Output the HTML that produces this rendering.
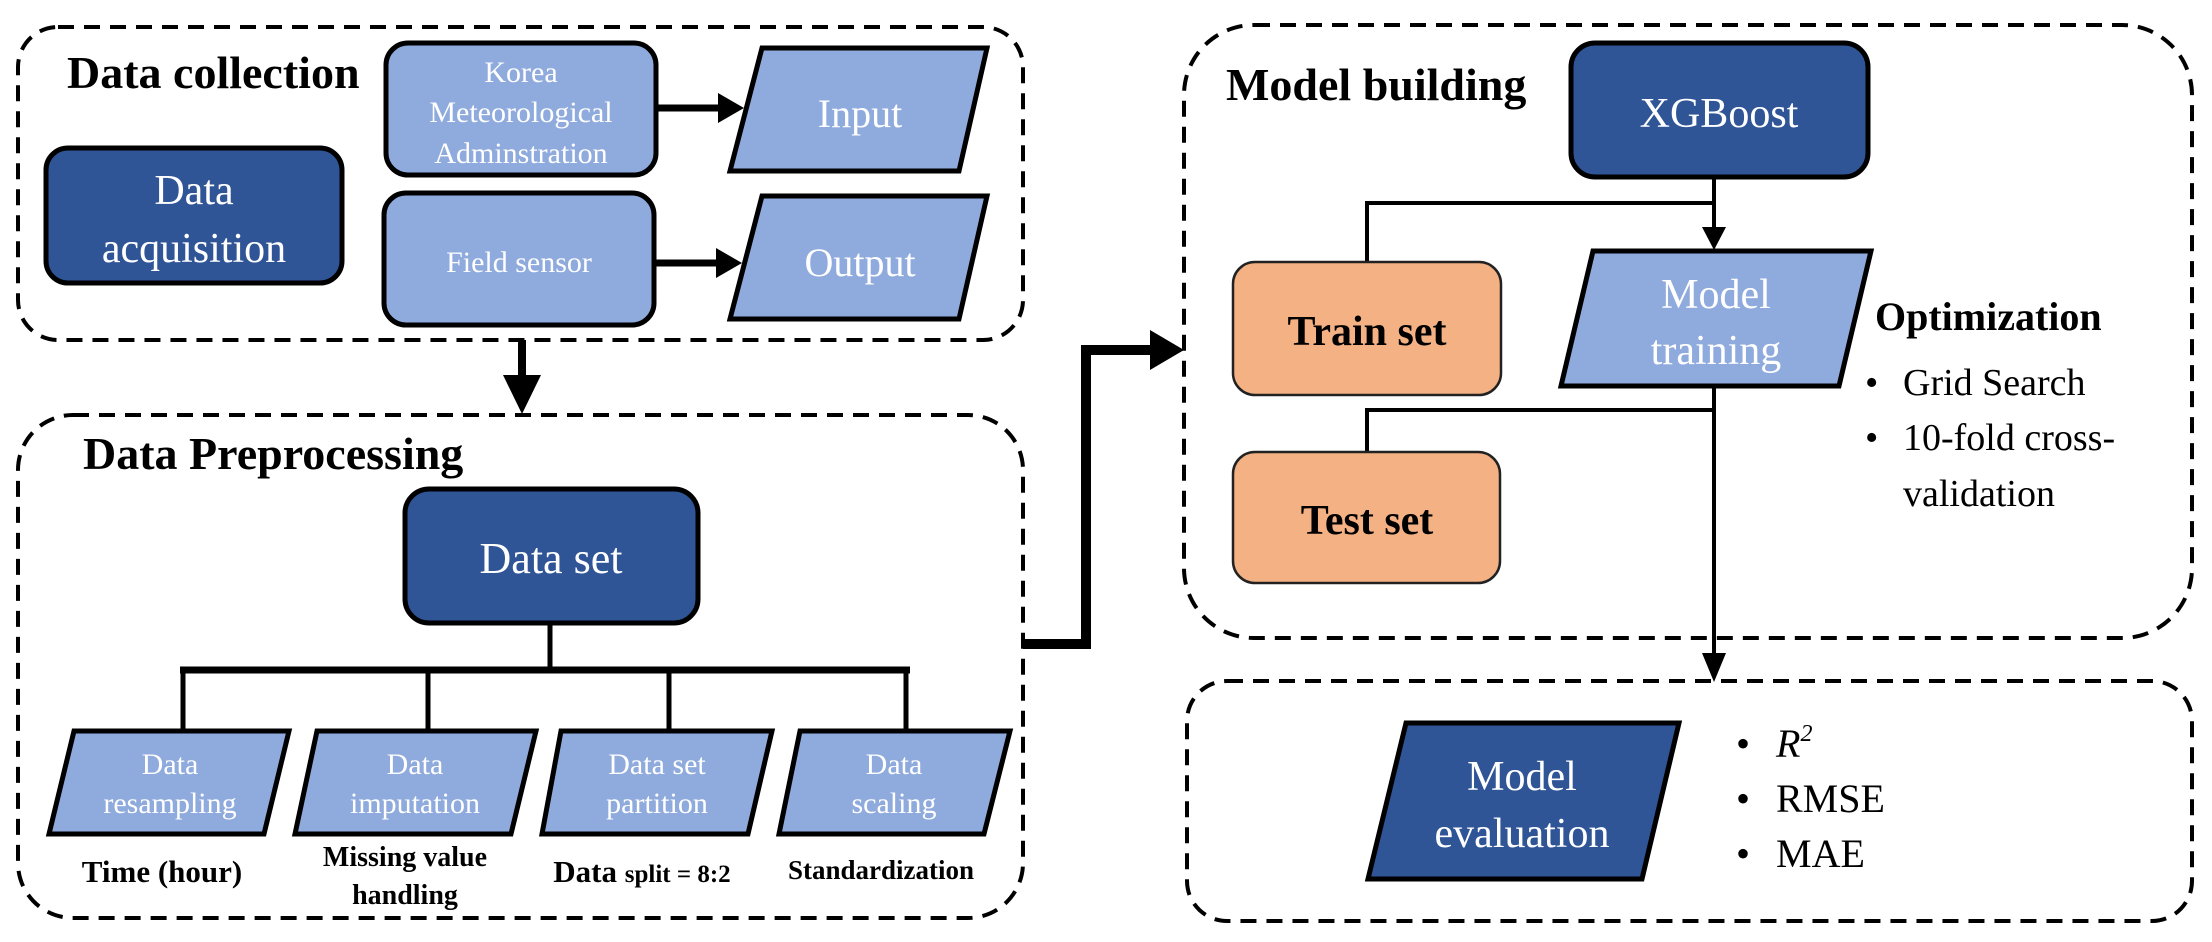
<!DOCTYPE html>
<html><head><meta charset="utf-8"><style>
html,body{margin:0;padding:0;background:#fff;}
svg{display:block;}
svg, svg text{font-family:"Liberation Serif","Times New Roman","DejaVu Serif",serif !important;}
</style></head><body>
<svg width="2212" height="942" viewBox="0 0 2212 942" xmlns="http://www.w3.org/2000/svg" font-family="Liberation Serif, serif">
<g fill="none" stroke="#000" stroke-width="4" stroke-dasharray="16 10">
<rect x="18" y="27" width="1005" height="313" rx="40"/>
<rect x="18" y="415" width="1005" height="503" rx="55"/>
<rect x="1184" y="25" width="1008" height="613" rx="70"/>
<rect x="1187" y="681" width="1005" height="240" rx="40"/>
</g>
<g font-weight="bold" font-size="46" fill="#000">
<text x="67" y="88">Data collection</text>
<text x="83" y="469">Data Preprocessing</text>
<text x="1226" y="100">Model building</text>
</g>
<rect x="46" y="148" width="296" height="135" rx="22" fill="#2f5597" stroke="#000" stroke-width="5"/>
<text x="194" y="204" font-size="42" fill="#fff" text-anchor="middle">Data</text>
<text x="194" y="262" font-size="42" fill="#fff" text-anchor="middle">acquisition</text>
<rect x="386" y="43" width="270" height="132" rx="22" fill="#8faadc" stroke="#000" stroke-width="5"/>
<g font-size="30" fill="#fff" text-anchor="middle">
<text x="521" y="82">Korea</text>
<text x="521" y="122">Meteorological</text>
<text x="521" y="163">Adminstration</text>
</g>
<rect x="384" y="193" width="270" height="132" rx="22" fill="#8faadc" stroke="#000" stroke-width="5"/>
<text x="519" y="272" font-size="30" fill="#fff" text-anchor="middle">Field sensor</text>
<polygon points="762,48 987,48 959,171 730,171" fill="#8faadc" stroke="#000" stroke-width="5"/>
<text x="860" y="127" font-size="40" fill="#fff" text-anchor="middle">Input</text>
<polygon points="762,196 987,196 959,319 730,319" fill="#8faadc" stroke="#000" stroke-width="5"/>
<text x="860" y="276" font-size="40" fill="#fff" text-anchor="middle">Output</text>
<line x1="656" y1="108" x2="722" y2="108" stroke="#000" stroke-width="7"/>
<polygon points="718,93 744,108 718,123" fill="#000"/>
<line x1="654" y1="263" x2="720" y2="263" stroke="#000" stroke-width="7"/>
<polygon points="716,248 742,263 716,278" fill="#000"/>
<line x1="522" y1="340" x2="522" y2="380" stroke="#000" stroke-width="8"/>
<polygon points="503,375 541,375 522,414" fill="#000"/>
<rect x="405" y="489" width="293" height="134" rx="24" fill="#2f5597" stroke="#000" stroke-width="5"/>
<text x="551" y="573" font-size="44" fill="#fff" text-anchor="middle">Data set</text>
<line x1="550" y1="623" x2="550" y2="670" stroke="#000" stroke-width="5"/>
<line x1="180" y1="670" x2="910" y2="670" stroke="#000" stroke-width="7"/>
<g stroke="#000" stroke-width="5">
<line x1="183" y1="670" x2="183" y2="731"/>
<line x1="428" y1="670" x2="428" y2="731"/>
<line x1="669" y1="670" x2="669" y2="731"/>
<line x1="906" y1="670" x2="906" y2="731"/>
</g>
<g fill="#8faadc" stroke="#000" stroke-width="5">
<polygon points="74,731 289,731 264,834 49,834"/>
<polygon points="317,731 536,731 511,834 295,834"/>
<polygon points="561,731 772,731 748,834 542,834"/>
<polygon points="800,731 1010,731 984,834 779,834"/>
</g>
<g font-size="30" fill="#fff" text-anchor="middle">
<text x="170" y="774">Data</text><text x="170" y="813">resampling</text>
<text x="415" y="774">Data</text><text x="415" y="813">imputation</text>
<text x="657" y="774">Data set</text><text x="657" y="813">partition</text>
<text x="894" y="774">Data</text><text x="894" y="813">scaling</text>
</g>
<g font-weight="bold" fill="#000" text-anchor="middle">
<text x="162" y="882" font-size="31">Time (hour)</text>
<text x="405" y="866" font-size="28">Missing value</text>
<text x="405" y="904" font-size="28">handling</text>
<text x="642" y="882" font-size="31">Data <tspan font-size="25">split = 8:2</tspan></text>
<text x="881" y="879" font-size="27">Standardization</text>
</g>
<polyline points="1023,644 1086,644 1086,350 1160,350" fill="none" stroke="#000" stroke-width="10"/>
<polygon points="1150,330 1184,350 1150,370" fill="#000"/>
<rect x="1571" y="43" width="297" height="134" rx="24" fill="#2f5597" stroke="#000" stroke-width="5"/>
<text x="1719" y="127" font-size="42" fill="#fff" text-anchor="middle">XGBoost</text>
<g stroke="#000" stroke-width="4" fill="none">
<line x1="1714" y1="177" x2="1714" y2="230"/>
<polyline points="1714,203 1367,203 1367,262"/>
<line x1="1714" y1="386" x2="1714" y2="656"/>
<polyline points="1714,410 1367,410 1367,452"/>
</g>
<polygon points="1702,227 1726,227 1714,250" fill="#000"/>
<polygon points="1702,653 1726,653 1714,682" fill="#000"/>
<rect x="1233" y="262" width="268" height="133" rx="22" fill="#f4b183" stroke="#222" stroke-width="2.5"/>
<text x="1367" y="345" font-size="42" font-weight="bold" fill="#000" text-anchor="middle">Train set</text>
<rect x="1233" y="452" width="267" height="131" rx="22" fill="#f4b183" stroke="#222" stroke-width="2.5"/>
<text x="1367" y="534" font-size="42" font-weight="bold" fill="#000" text-anchor="middle">Test set</text>
<polygon points="1593,251 1871,251 1839,386 1561,386" fill="#8faadc" stroke="#000" stroke-width="5"/>
<text x="1716" y="308" font-size="42" fill="#fff" text-anchor="middle">Model</text>
<text x="1716" y="364" font-size="42" fill="#fff" text-anchor="middle">training</text>
<text x="1875" y="330" font-size="40" font-weight="bold" fill="#000">Optimization</text>
<g font-size="38" fill="#000">
<text x="1865" y="395">•</text><text x="1903" y="395">Grid Search</text>
<text x="1865" y="450">•</text><text x="1903" y="450">10-fold cross-</text>
<text x="1903" y="506">validation</text>
</g>
<polygon points="1406,723 1679,723 1642,879 1368,879" fill="#2f5597" stroke="#000" stroke-width="5"/>
<text x="1522" y="790" font-size="42" fill="#fff" text-anchor="middle">Model</text>
<text x="1522" y="847" font-size="42" fill="#fff" text-anchor="middle">evaluation</text>
<g font-size="40" fill="#000">
<text x="1736" y="757">•</text><text x="1776" y="757" font-style="italic">R<tspan font-size="24" dy="-16">2</tspan></text>
<text x="1736" y="812">•</text><text x="1776" y="812">RMSE</text>
<text x="1736" y="867">•</text><text x="1776" y="867">MAE</text>
</g>
</svg>
</body></html>
